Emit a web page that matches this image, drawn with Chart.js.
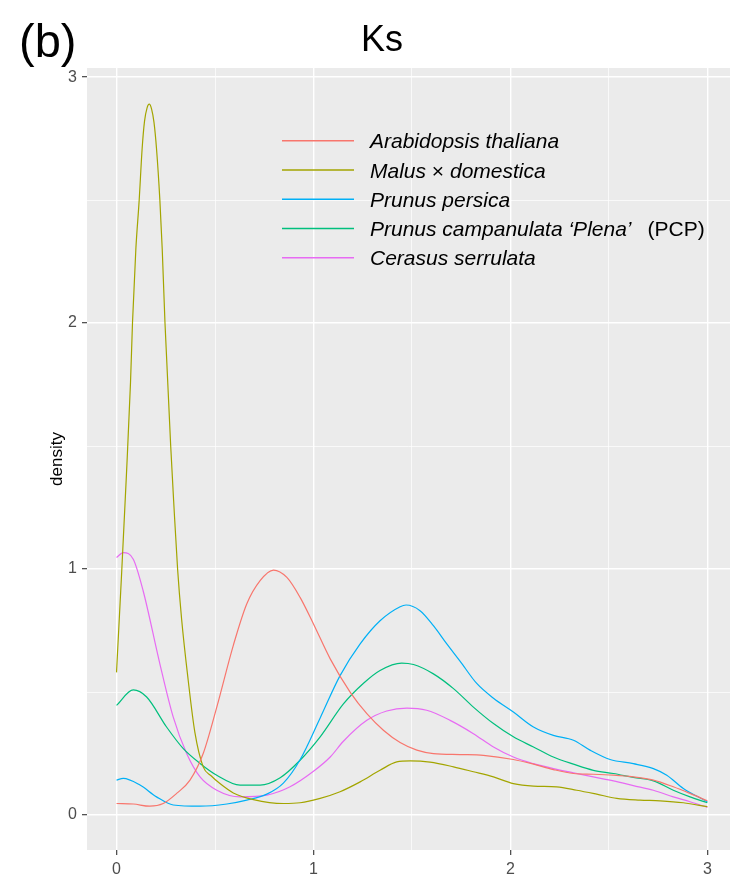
<!DOCTYPE html>
<html>
<head>
<meta charset="utf-8">
<title>Ks</title>
<script src="https://cdn.jsdelivr.net/npm/chart.js@4.4.1/dist/chart.umd.min.js"></script>
<style>
    body { margin: 0; background: #ffffff; overflow: hidden; }
    #wrap { width: 730px; height: 880px; }
</style>
</head>
<body>
<div id="wrap"><canvas id="ksChart" width="730" height="880"></canvas></div>
<script>
const FONT = '"Liberation Sans", Arial, sans-serif';

const seriesNames = ["Arabidopsis thaliana", "Malus × domestica", "Prunus persica", "Prunus campanulata ‘Plena’ (PCP)", "Cerasus serrulata"];
const seriesColors = ["#F8766D", "#A3A500", "#00B0F6", "#00BF7D", "#E76BF3"];

const tickValues = [0, 0.5, 1, 1.5, 2, 2.5, 3];

// Ks values (x) and density (y)
const arabidopsisX = [0, 0.085, 0.169, 0.237, 0.305, 0.373, 0.44, 0.509, 0.593, 0.661, 0.729, 0.797, 0.865, 0.932, 1.0, 1.085, 1.186, 1.271, 1.355, 1.44, 1.525, 1.609, 1.745, 1.863, 2.015, 2.117, 2.218, 2.32, 2.421, 2.523, 2.624, 2.726, 2.827, 2.912, 3.0];
const arabidopsisY = [0.047, 0.045, 0.036, 0.047, 0.088, 0.142, 0.25, 0.439, 0.69, 0.858, 0.953, 0.996, 0.966, 0.885, 0.777, 0.635, 0.5, 0.412, 0.345, 0.295, 0.264, 0.25, 0.246, 0.243, 0.226, 0.207, 0.185, 0.169, 0.166, 0.162, 0.155, 0.142, 0.115, 0.088, 0.058];

const malusX = [0, 0.005, 0.025, 0.05, 0.071, 0.081, 0.098, 0.115, 0.13, 0.142, 0.155, 0.166, 0.178, 0.19, 0.203, 0.22, 0.232, 0.246, 0.275, 0.29, 0.31, 0.33, 0.364, 0.398, 0.44, 0.48, 0.525, 0.593, 0.695, 0.847, 0.932, 1.034, 1.135, 1.237, 1.338, 1.423, 1.491, 1.592, 1.711, 1.812, 1.914, 2.015, 2.117, 2.235, 2.337, 2.438, 2.54, 2.658, 2.76, 2.878, 3.0];
const malusY = [0.58, 0.66, 0.97, 1.38, 1.76, 2.0, 2.3, 2.5, 2.71, 2.82, 2.875, 2.89, 2.87, 2.817, 2.709, 2.5, 2.3, 2.0, 1.5, 1.277, 1.0, 0.8, 0.547, 0.335, 0.196, 0.16, 0.128, 0.09, 0.063, 0.047, 0.05, 0.068, 0.095, 0.135, 0.182, 0.216, 0.22, 0.215, 0.196, 0.176, 0.155, 0.128, 0.118, 0.115, 0.101, 0.085, 0.068, 0.061, 0.058, 0.05, 0.034];

const persicaX = [0, 0.034, 0.119, 0.203, 0.288, 0.424, 0.56, 0.661, 0.763, 0.847, 0.932, 1.034, 1.135, 1.237, 1.338, 1.44, 1.47, 1.541, 1.609, 1.677, 1.745, 1.829, 1.914, 2.015, 2.117, 2.218, 2.32, 2.404, 2.506, 2.624, 2.726, 2.794, 2.878, 3.0];
const persicaY = [0.142, 0.149, 0.122, 0.074, 0.041, 0.036, 0.045, 0.061, 0.085, 0.13, 0.225, 0.395, 0.567, 0.696, 0.79, 0.847, 0.854, 0.831, 0.77, 0.696, 0.625, 0.535, 0.475, 0.419, 0.358, 0.324, 0.304, 0.264, 0.226, 0.209, 0.189, 0.162, 0.108, 0.054];

const campanulataX = [0, 0.085, 0.153, 0.254, 0.339, 0.424, 0.509, 0.627, 0.729, 0.831, 0.932, 1.034, 1.152, 1.254, 1.338, 1.448, 1.508, 1.609, 1.711, 1.812, 1.914, 2.015, 2.117, 2.218, 2.32, 2.421, 2.523, 2.624, 2.726, 2.827, 2.912, 3.0];
const campanulataY = [0.446, 0.509, 0.48, 0.358, 0.27, 0.21, 0.162, 0.122, 0.122, 0.152, 0.223, 0.318, 0.452, 0.536, 0.588, 0.618, 0.612, 0.574, 0.514, 0.439, 0.372, 0.318, 0.277, 0.236, 0.207, 0.182, 0.169, 0.153, 0.139, 0.101, 0.074, 0.05];

const cerasusX = [0, 0.034, 0.085, 0.135, 0.22, 0.288, 0.356, 0.424, 0.509, 0.627, 0.763, 0.881, 1.0, 1.085, 1.152, 1.271, 1.372, 1.474, 1.575, 1.694, 1.812, 1.914, 2.015, 2.117, 2.218, 2.32, 2.421, 2.523, 2.624, 2.726, 2.827, 2.912, 3.0];
const cerasusY = [1.047, 1.067, 1.04, 0.912, 0.615, 0.398, 0.25, 0.155, 0.101, 0.074, 0.081, 0.115, 0.178, 0.236, 0.3, 0.385, 0.423, 0.435, 0.426, 0.385, 0.331, 0.277, 0.236, 0.209, 0.189, 0.172, 0.155, 0.139, 0.12, 0.101, 0.074, 0.054, 0.031];

const seriesX = [arabidopsisX, malusX, persicaX, campanulataX, cerasusX];
const seriesY = [arabidopsisY, malusY, persicaY, campanulataY, cerasusY];

// grey panel behind the grid
const panelBackground = {
    id: "panelBackground",
    beforeDraw(chart) {
        const { ctx, chartArea: a } = chart;
        ctx.save();
        ctx.fillStyle = "#EBEBEB";
        ctx.fillRect(a.left, a.top, a.right - a.left, a.bottom - a.top);
        ctx.restore();
    }
};

// title, panel tag, y title and the legend with mixed italic text
const annotations = {
    id: "annotations",
    afterDraw(chart) {
        const ctx = chart.ctx;
        ctx.save();
        ctx.fillStyle = "#000000";
        ctx.textBaseline = "alphabetic";

        ctx.font = `47px ${FONT}`;
        ctx.textAlign = "left";
        ctx.fillText("(b)", 19, 57);

        ctx.font = `36px ${FONT}`;
        ctx.textAlign = "center";
        ctx.fillText("Ks", 382, 51);

        ctx.save();
        ctx.translate(61.5, 459);
        ctx.rotate(-Math.PI / 2);
        ctx.font = `17px ${FONT}`;
        ctx.fillText("density", 0, 0);
        ctx.restore();

        const rows = [
            [["Arabidopsis thaliana", true]],
            [["Malus ", true], ["×", false], [" domestica", true]],
            [["Prunus persica", true]],
            [["Prunus campanulata ‘Plena’", true], ["(PCP)", false, 16]],
            [["Cerasus serrulata", true]]
        ];
        ctx.textAlign = "left";
        rows.forEach((parts, i) => {
            const y = 140.7 + i * 29.25;
            ctx.strokeStyle = seriesColors[i];
            ctx.lineWidth = 1.4;
            ctx.beginPath();
            ctx.moveTo(282, y);
            ctx.lineTo(354, y);
            ctx.stroke();

            let x = 370;
            parts.forEach(([text, italic, gap]) => {
                if (gap) x += gap;
                ctx.font = `${italic ? "italic " : ""}21px ${FONT}`;
                ctx.fillText(text, x, y + 7.6);
                x += ctx.measureText(text).width;
            });
        });
        ctx.restore();
    }
};

const datasets = seriesNames.map((name, i) => ({
    label: name,
    data: seriesX[i].map((x, j) => ({ x: x, y: seriesY[i][j] })),
    borderColor: seriesColors[i],
    borderWidth: 1.2,
    showLine: true,
    pointRadius: 0,
    cubicInterpolationMode: "monotone",
    fill: false
}));

const gridWidth = ctx => (ctx.tick && Number.isInteger(ctx.tick.value) ? 1.4 : 0.7);
const tickMarkColor = ctx => (ctx.tick && Number.isInteger(ctx.tick.value) ? "#333333" : "rgba(0,0,0,0)");
const setTicks = scale => { scale.ticks = tickValues.map(v => ({ value: v })); };
const intLabel = v => (Number.isInteger(v) ? String(v) : "");

new Chart(document.getElementById("ksChart"), {
    type: "scatter",
    data: { datasets: datasets },
    options: {
        responsive: false,
        animation: false,
        devicePixelRatio: 1,
        layout: { padding: { top: 68, right: 0, bottom: 0, left: 0 }, autoPadding: false },
        scales: {
            x: {
                type: "linear",
                min: -0.15,
                max: 3.115,
                afterBuildTicks: setTicks,
                afterFit: scale => { scale.height = 30; },
                border: { display: false },
                grid: { color: "#FFFFFF", lineWidth: gridWidth, tickLength: 5, tickColor: tickMarkColor, tickWidth: 1.1 },
                ticks: { callback: intLabel, color: "#4D4D4D", font: { family: FONT, size: 16 }, padding: 5, maxRotation: 0, autoSkip: false }
            },
            y: {
                type: "linear",
                min: -0.142,
                max: 3.037,
                afterBuildTicks: setTicks,
                afterFit: scale => { scale.width = 87; },
                border: { display: false },
                grid: { color: "#FFFFFF", lineWidth: gridWidth, tickLength: 5, tickColor: tickMarkColor, tickWidth: 1.1 },
                ticks: { callback: intLabel, color: "#4D4D4D", font: { family: FONT, size: 16 }, padding: 5, autoSkip: false }
            }
        },
        plugins: {
            legend: { display: false },
            tooltip: { enabled: false },
            title: { display: false }
        }
    },
    plugins: [panelBackground, annotations]
});
</script>
</body>
</html>
